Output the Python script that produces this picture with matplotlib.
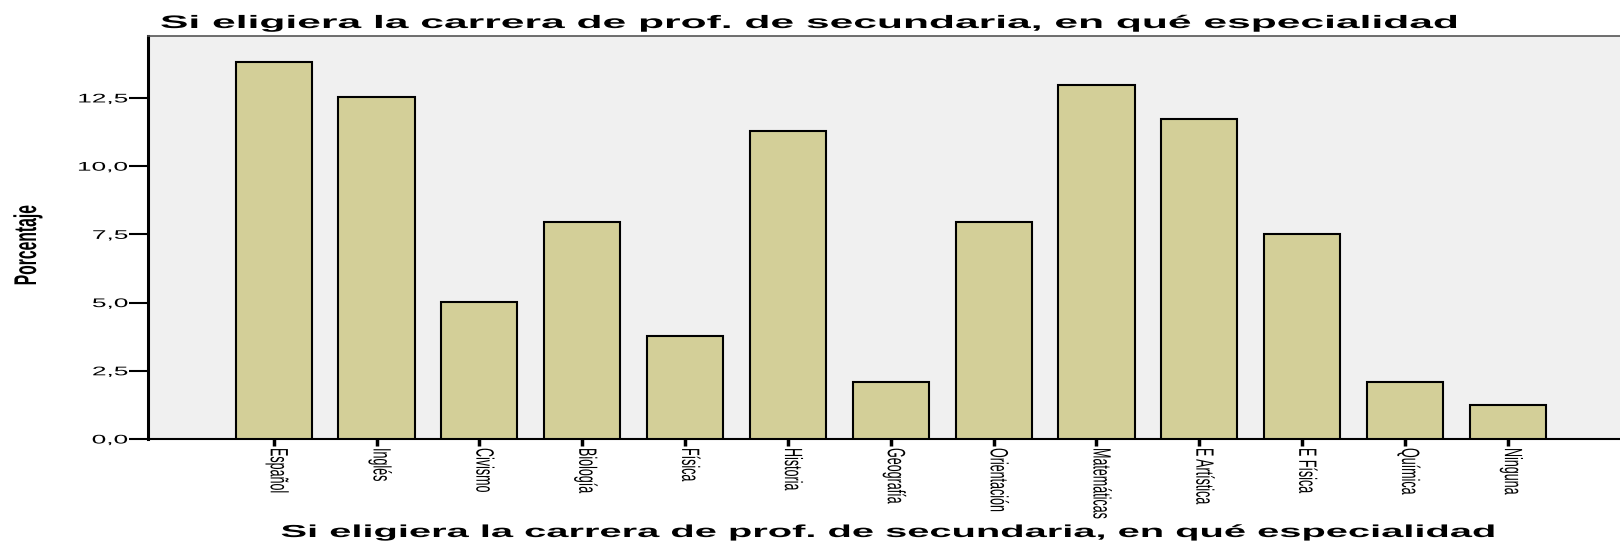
import matplotlib
matplotlib.use("Agg")
import matplotlib.pyplot as plt
from matplotlib.ticker import FuncFormatter
from matplotlib.patheffects import AbstractPathEffect
from matplotlib.transforms import Affine2D

# data (percent, n = 239)
categories = ["Español", "Inglés", "Civismo", "Biología", "Física", "Historia",
              "Geografía", "Orientación", "Matemáticas", "E Artística", "E Física",
              "Química", "Ninguna"]
porcentaje = [13.81, 12.55, 5.02, 7.95, 3.77, 11.30, 2.09, 7.95, 12.97, 11.72,
              7.53, 2.09, 1.26]
yticks = [0, 2.5, 5.0, 7.5, 10.0, 12.5]

title = "Si eligiera la carrera de prof. de secundaria, en qué especialidad"

# the original SPSS picture was stretched sideways about 2x, so all text is too
SX = 2.0


class Stretch(AbstractPathEffect):
    # scale glyphs around (x0, y0) in display pixels
    def __init__(self, sx=1.0, sy=1.0, x0=0.0, y0=0.0):
        super().__init__()
        self.sx, self.sy, self.x0, self.y0 = sx, sy, x0, y0

    def draw_path(self, renderer, gc, tpath, affine, rgbFace=None):
        t = affine + Affine2D().translate(-self.x0, -self.y0).scale(self.sx, self.sy).translate(self.x0, self.y0)
        renderer.draw_path(gc, tpath, t, rgbFace)


fig = plt.figure(figsize=(16.2, 5.41), dpi=100)
ax = fig.add_axes([148 / 1620, 1 - 439 / 541, 1 - 148 / 1620, (439 - 36) / 541])
ax.set_facecolor("#f0f0f0")

x = list(range(len(categories)))
ax.bar(x, porcentaje, width=0.74, color="#d3cf98", edgecolor="black", linewidth=1.5, zorder=3)

ax.set_xlim(-1.222, 13.09)
ax.set_ylim(0, 14.77)
ax.set_yticks(yticks)
ax.yaxis.set_major_formatter(FuncFormatter(lambda v, p: f"{v:.1f}".replace(".", ",")))
ax.set_xticks(x)
ax.set_xticklabels(categories, rotation=270, fontsize=9, family="Liberation Sans")
for lbl in ax.get_yticklabels():
    lbl.set_family("Liberation Sans")

ytick_len, ytick_pad = 13.5, 0.8
ax.tick_params(axis="y", length=ytick_len, width=1.5, labelsize=9, pad=ytick_pad)
ax.tick_params(axis="x", length=5, width=2.5, pad=1.5)

ax.spines["left"].set_linewidth(2.2)
ax.spines["bottom"].set_linewidth(1.5)
ax.spines["right"].set_visible(False)
ax.spines["top"].set_color("#555555")
ax.spines["top"].set_linewidth(1.2)

t_top = fig.text(160 / 1620, 1 - 28 / 541, title, fontsize=13, fontweight="bold",
                 family="Liberation Sans", ha="left", va="baseline")
t_bot = fig.text(890 / 1620, 4 / 541, title, fontsize=12.5, fontweight="bold",
                 family="Liberation Sans", ha="center", va="baseline")
t_y = fig.text(27 / 1620, 1 - 245 / 541, "Porcentaje", rotation=90, fontsize=11.3,
               fontweight="bold", family="Liberation Sans", ha="center", va="center")

fig.canvas.draw()
r = fig.canvas.get_renderer()

bb = t_top.get_window_extent(r)
t_top.set_path_effects([Stretch(sx=1295 / bb.width, x0=bb.x0, y0=bb.y0)])
bb = t_bot.get_window_extent(r)
t_bot.set_path_effects([Stretch(sx=1219 / bb.width, x0=(bb.x0 + bb.x1) / 2, y0=bb.y0)])
t_y.set_path_effects([Stretch(sx=SX, x0=27, y0=0)])

# rotated category labels: stretched across, around each tick
for i, lbl in enumerate(ax.get_xticklabels()):
    xc = ax.transData.transform((i, 0))[0] - 3
    lbl.set_path_effects([Stretch(sx=SX, x0=xc, y0=0)])

# y tick labels keep their right edge
x_right = ax.transAxes.transform((0, 0))[0] - (ytick_len + ytick_pad) * fig.dpi / 72
for lbl in ax.get_yticklabels():
    lbl.set_path_effects([Stretch(sx=SX + 0.1, x0=x_right, y0=0)])

fig.savefig("out.png", dpi=100)
